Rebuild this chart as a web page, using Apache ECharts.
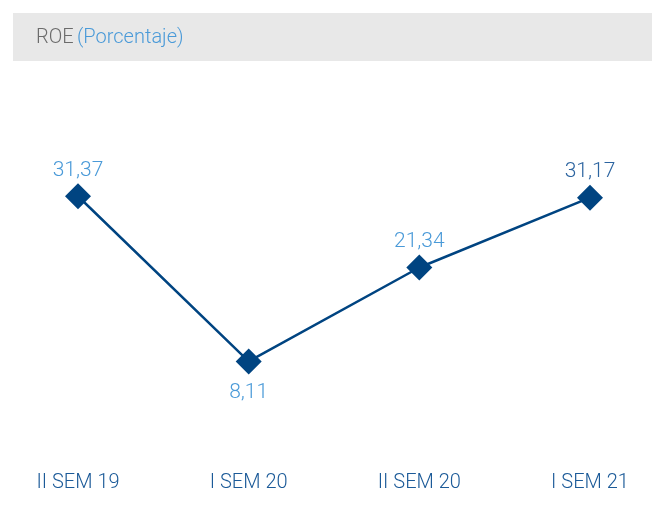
<!DOCTYPE html>
<html lang="es">
<head>
    <meta charset="UTF-8">
    <title>ROE</title>
    <script src="https://cdn.jsdelivr.net/npm/echarts@6/dist/echarts.min.js"></script>
    <style>
        html, body { margin: 0; padding: 0; background: #fff; }
        #chart { width: 658px; height: 507px; }
    </style>
</head>
<body>
<div id="chart"></div>
<script>
    // periodos y valores de ROE (porcentaje)
    var periodos = ['II SEM 19', 'I SEM 20', 'II SEM 20', 'I SEM 21'];
    var roe = [31.37, 8.11, 21.34, 31.17];
    var etiquetaPosicion = ['top', 'bottom', 'top', 'top'];

    var font = 'Roboto';
    var azulOscuro = '#004481';
    var azulClaro = '#4a9ad8';

    var chart = echarts.init(document.getElementById('chart'));

    var puntos = roe.map(function (v, i) {
        var ultimo = i === roe.length - 1;
        var arriba = etiquetaPosicion[i] === 'top';
        return {
            value: v,
            label: {
                position: etiquetaPosicion[i],
                distance: arriba ? 2 : 8,
                color: ultimo ? '#2c64a0' : azulClaro
            }
        };
    });

    chart.setOption({
        animation: false,
        graphic: [{
            type: 'rect',
            shape: {x: 13, y: 13, width: 639, height: 48},
            style: {fill: '#e8e8e8'}
        }, {
            type: 'text',
            left: 36,
            top: 28,
            style: {
                text: '{a|ROE} {b|(Porcentaje)}',
                rich: {
                    a: {fontFamily: font, fontWeight: 300, fontSize: 20, fill: '#6b6b6b'},
                    b: {fontFamily: font, fontWeight: 300, fontSize: 20, fill: azulClaro}
                }
            }
        }],
        grid: {left: 78, right: 68, top: 135, height: 284},
        xAxis: {
            type: 'category',
            data: periodos,
            boundaryGap: false,
            axisLine: {show: false},
            axisTick: {show: false},
            axisLabel: {
                margin: 54,
                fontFamily: font,
                fontWeight: 300,
                fontSize: 20,
                color: '#1b5a98'
            }
        },
        yAxis: {
            type: 'value',
            min: 0,
            max: 40,
            show: false,
            splitLine: {show: false}
        },
        series: [{
            type: 'line',
            data: puntos,
            symbol: 'diamond',
            symbolSize: [26, 26],
            itemStyle: {color: azulOscuro},
            lineStyle: {color: azulOscuro, width: 2.5},
            label: {
                show: true,
                fontFamily: font,
                fontWeight: 300,
                fontSize: 21,
                formatter: function (p) {
                    return p.value.toFixed(2).replace('.', ',');
                }
            }
        }]
    });
</script>
</body>
</html>
